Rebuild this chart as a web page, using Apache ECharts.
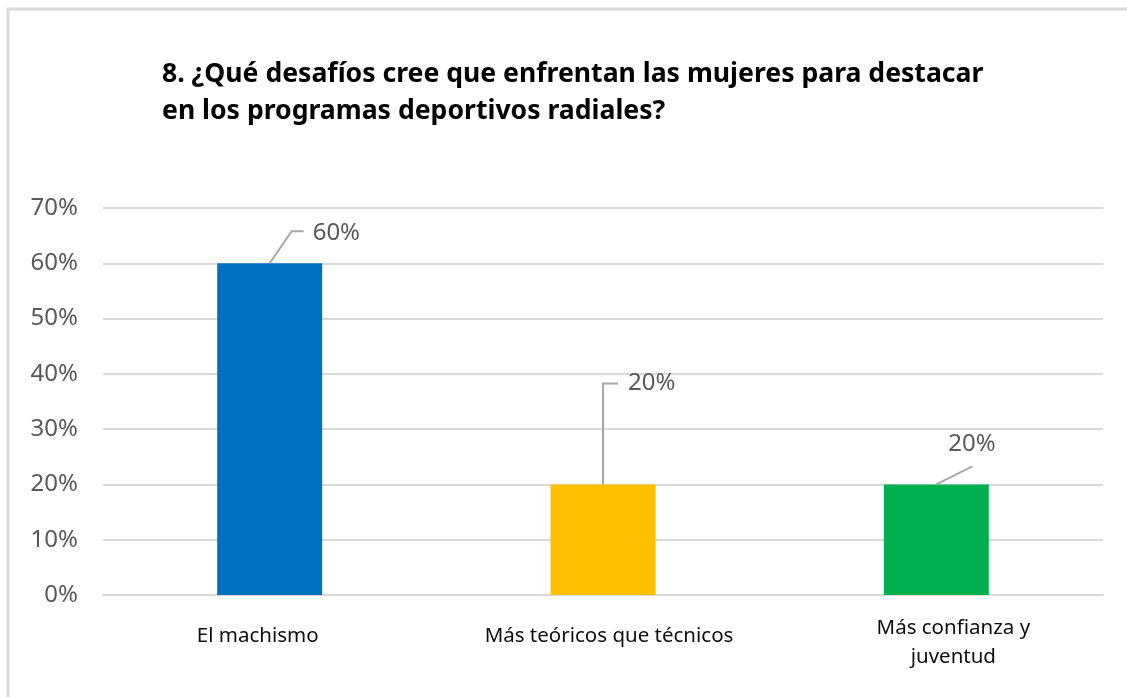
<!DOCTYPE html>
<html>
<head>
<meta charset="utf-8">
<script src="https://cdn.jsdelivr.net/npm/echarts/dist/echarts.min.js"></script>
<style>
  html, body { margin: 0; padding: 0; background: #fff; }
  #chart { width: 1127px; height: 697px; }
</style>
</head>
<body>
<div id="chart"></div>
<script>
// datos del gráfico
const categories = ['El machismo', 'Más teóricos que técnicos', 'Más confianza y\njuventud'];
const values = [60, 20, 20];
const yTicks = [0, 10, 20, 30, 40, 50, 60, 70];

const barColors = ['#0070C0', '#FFC000', '#00B050'];
// desplazamiento de etiquetas de categoría (padding)
const catPadding = [[8, 24, 0, 0], [8, 0, 0, 12], [0, 0, 0, 34]];
// líneas guía de las etiquetas, en píxeles relativos al tope de la barra
const leaderLines = [
  { pts: [[0, 0], [22, -32], [34, -32]], text: [43, -30] },
  { pts: [[0, 0], [0, -101], [15, -101]], text: [25, -101] },
  { pts: [[0, 0], [36, -18]], text: [12, -40] }
];

const chart = echarts.init(document.getElementById('chart'));

const option = {
  animation: false,
  title: {
    text: '8. ¿Qué desafíos cree que enfrentan las mujeres para destacar\nen los programas deportivos radiales?',
    left: 157,
    top: 51,
    textStyle: {
      fontFamily: 'Noto Sans',
      fontSize: 26.6,
      fontWeight: 'bold',
      color: '#000',
      lineHeight: 37
    }
  },
  graphic: [{
    type: 'rect',
    shape: { x: 8, y: 9, width: 1300, height: 900 },
    style: { fill: 'none', stroke: '#d9d9d9', lineWidth: 3 },
    silent: true
  }],
  grid: { left: 103, right: 24, top: 208, bottom: 102 },
  xAxis: {
    type: 'category',
    data: categories.map((c, i) => ({ value: c, textStyle: { padding: catPadding[i] } })),
    axisTick: { show: false },
    axisLine: { lineStyle: { color: '#d9d9d9', width: 2 } },
    axisLabel: {
      interval: 0,
      margin: 19,
      fontFamily: 'Noto Sans',
      fontSize: 20.5,
      lineHeight: 29,
      color: '#0d0d0d'
    }
  },
  yAxis: {
    type: 'value',
    min: yTicks[0],
    max: yTicks[yTicks.length - 1],
    interval: 10,
    axisLabel: {
      formatter: '{value}%',
      margin: 25,
      fontFamily: 'Noto Sans',
      fontSize: 24,
      color: '#595959'
    },
    splitLine: { lineStyle: { color: '#d9d9d9', width: 2 } }
  },
  series: [
    {
      type: 'bar',
      barWidth: 105,
      data: values.map((v, i) => ({ value: v, itemStyle: { color: barColors[i] } })),
      z: 2
    },
    {
      type: 'custom',
      data: values.map((v, i) => [i, v]),
      encode: { x: 0, y: 1 },
      z: 5,
      renderItem: function (params, api) {
        const i = params.dataIndex;
        const p = api.coord([api.value(0), api.value(1)]);
        const ll = leaderLines[i];
        return {
          type: 'group',
          children: [
            {
              type: 'polyline',
              shape: { points: ll.pts.map(d => [p[0] + d[0], p[1] + d[1]]) },
              style: { stroke: '#a6a6a6', lineWidth: 2, fill: null }
            },
            {
              type: 'text',
              style: {
                text: api.value(1) + '%',
                x: p[0] + ll.text[0],
                y: p[1] + ll.text[1],
                align: 'left',
                verticalAlign: 'middle',
                fontFamily: 'Noto Sans',
                fontSize: 24,
                fill: '#595959'
              }
            }
          ]
        };
      }
    }
  ]
};

chart.setOption(option);
</script>
</body>
</html>
